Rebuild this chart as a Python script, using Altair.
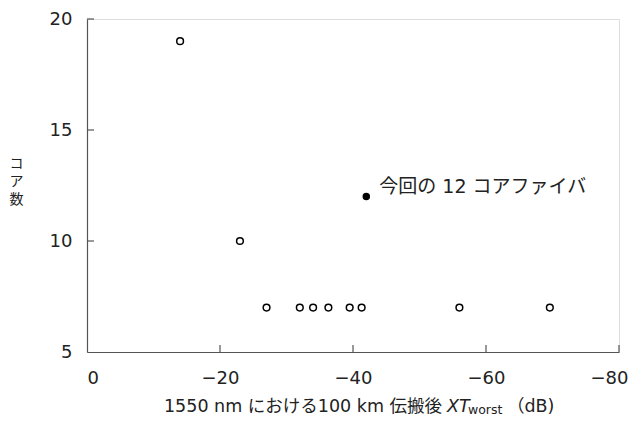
import altair as alt
import pandas as pd

# data
xt_worst = [-14, -23, -27, -32, -34, -36.3, -39.5, -41.3, -56, -69.6]
core_count = [19, 10, 7, 7, 7, 7, 7, 7, 7, 7]
this_xt = [-42]
this_cores = [12]
this_label = ["今回の 12 コアファイバ"]
x_ticks = [-20, -40, -60, -80]
y_ticks = [10, 15, 20]

W, H = 532, 333
FONT = "DejaVu Sans, Noto Sans CJK JP"
JP = "Noto Sans CJK JP"
INK = "#222222"
AX = "#555555"

df = pd.DataFrame({"xt": xt_worst, "cores": core_count})
df_this = pd.DataFrame({"xt": this_xt, "cores": this_cores, "label": this_label})
df_xt = pd.DataFrame({"v": x_ticks})
df_yt = pd.DataFrame({"v": y_ticks})

xscale = alt.Scale(domain=[-80, 0], reverse=True, nice=False, zero=False)
yscale = alt.Scale(domain=[5, 20], nice=False, zero=False)

xaxis = alt.Axis(
    values=[0, -20, -40, -60, -80], ticks=False, grid=False,
    domainColor=AX, domainWidth=1.2,
    labelFont=FONT, labelFontSize=18, labelColor=INK, labelPadding=17,
    labelExpr="datum.value == 0 ? '0' : '\u2212' + abs(datum.value)",
    labelAlign={"condition": {"test": "datum.value == 0", "value": "left"}, "value": "center"},
    labelOffset={"condition": {"test": "datum.value == -80", "value": -10}, "value": 0},
    labelFlush=False, labelOverlap=False, title=None,
)
yaxis = alt.Axis(
    values=[5, 10, 15, 20], ticks=False, grid=False,
    domainColor=AX, domainWidth=1.2,
    labelFont=FONT, labelFontSize=18, labelColor=INK, labelPadding=15,
    labelFlush=False,
    title=["コ", "ア", "数"], titleAngle=0, titleFont=JP, titleFontSize=14,
    titleFontWeight="normal", titleColor=INK, titleX=-71, titleY=137,
    titleAlign="center", titleBaseline="top", titleLineHeight=18,
)

base_pts = alt.Chart(df).mark_point(
    shape="circle", filled=True, fill="white", stroke="black", strokeWidth=1.5, size=45, opacity=1
).encode(
    x=alt.X("xt:Q", scale=xscale, axis=xaxis),
    y=alt.Y("cores:Q", scale=yscale, axis=yaxis),
)

this_pt = alt.Chart(df_this).mark_point(
    shape="circle", filled=True, fill="black", stroke="black", size=30, opacity=1
).encode(x=alt.X("xt:Q", scale=xscale), y=alt.Y("cores:Q", scale=yscale))

this_txt = alt.Chart(df_this).mark_text(
    align="left", baseline="middle", dx=13, dy=-10, font=FONT, fontSize=19, color=INK
).encode(x=alt.X("xt:Q", scale=xscale), y=alt.Y("cores:Q", scale=yscale), text="label:N")

xt_rules = alt.Chart(df_xt).mark_rule(color=AX, strokeWidth=1.2).encode(
    x=alt.X("v:Q", scale=xscale), y=alt.value(H), y2=alt.value(H - 7)
)
yt_rules = alt.Chart(df_yt).mark_rule(color=AX, strokeWidth=1.2).encode(
    y=alt.Y("v:Q", scale=yscale), x=alt.value(0), x2=alt.value(7)
)

# composite x-axis title
TY = 388
t1 = alt.Chart(pd.DataFrame({"t": ["1550 nm における100 km 伝搬後"]})).mark_text(
    align="right", baseline="middle", font=FONT, fontSize=17.5, color=INK
).encode(x=alt.value(355), y=alt.value(TY), text="t:N")
t2 = alt.Chart(pd.DataFrame({"t": ["XT"]})).mark_text(
    align="left", baseline="middle", font=FONT, fontSize=17.5, fontStyle="italic", color=INK
).encode(x=alt.value(360), y=alt.value(TY), text="t:N")
t3 = alt.Chart(pd.DataFrame({"t": ["worst"]})).mark_text(
    align="left", baseline="middle", font=FONT, fontSize=12.5, color=INK
).encode(x=alt.value(381), y=alt.value(TY + 3), text="t:N")
t4 = alt.Chart(pd.DataFrame({"t": ["（dB)"]})).mark_text(
    align="left", baseline="middle", font=FONT, fontSize=17.5, color=INK
).encode(x=alt.value(420), y=alt.value(TY), text="t:N")

chart = alt.layer(
    xt_rules, yt_rules, base_pts, this_pt, this_txt, t1, t2, t3, t4
).properties(
    width=W, height=H,
    autosize=alt.AutoSizeParams(type="none"),
    padding={"left": 79, "top": 11, "right": 11, "bottom": 64},
).configure_view(stroke=None).configure(background="white")

chart.save("out.html", embed_options={"renderer": "svg", "actions": False})
